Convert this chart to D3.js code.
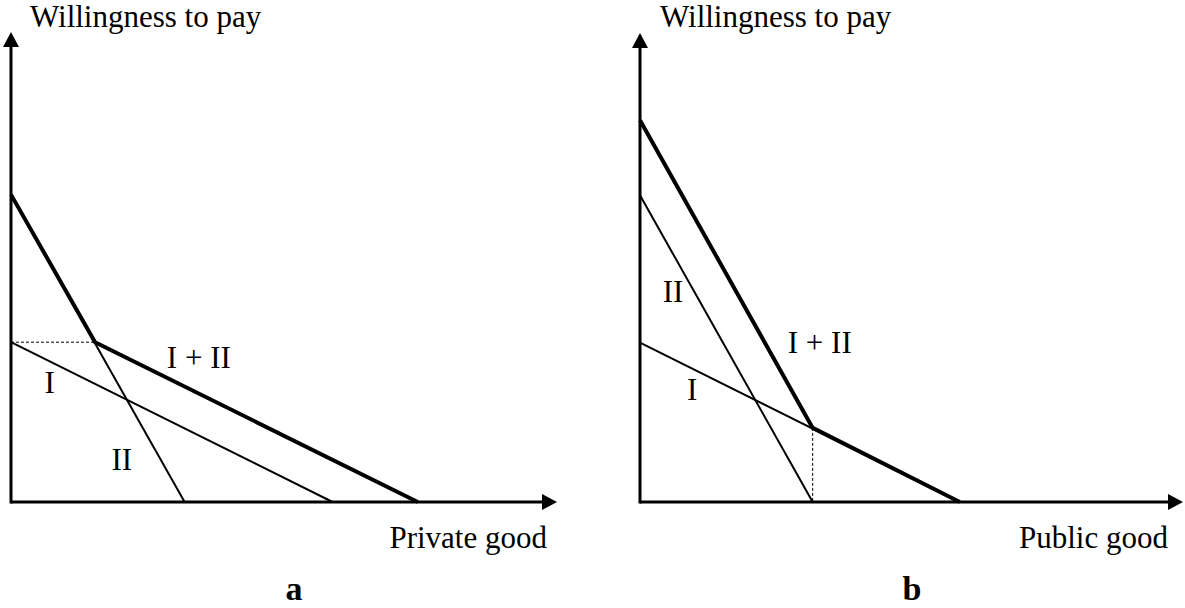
<!DOCTYPE html>
<html>
<head>
<meta charset="utf-8">
<script src="https://cdn.jsdelivr.net/npm/d3@7"></script>
<style>
  html, body { margin: 0; padding: 0; background: #fff; }
  svg { display: block; }
  text { font-family: "Liberation Serif", "Times New Roman", serif; fill: #000; }
</style>
</head>
<body>
<svg id="chart" width="1185" height="608"></svg>
<script>
// ---- data (quantity q, willingness to pay p) ----
const panelIds = ["a", "b"];
const xAxisTitles = ["Private good", "Public good"];
const yAxisTitle = "Willingness to pay";
const demandI = [{q: 0, p: 34.0}, {q: 58.9, p: 0}];
const demandII = [{q: 0, p: 65.4}, {q: 31.8, p: 0}];
// horizontal sum (private good)
const sumPrivate = [{q: 0, p: 65.4}, {q: 15.4, p: 34.0}, {q: 74.5, p: 0}];
// vertical sum (public good)
const sumPublic = [{q: 0, p: 81.4}, {q: 31.8, p: 15.8}, {q: 58.9, p: 0}];
const guidePrivate = [{q: 0, p: 34.0}, {q: 15.4, p: 34.0}];
const guidePublic = [{q: 31.8, p: 15.8}, {q: 31.8, p: 0}];
const curveLabels = ["I", "II", "I + II"];

// ---- layout ----
const svg = d3.select("#chart");
const panels = [
  {x0: 11, x1: 557, y0: 502, y1: 32, sum: sumPrivate, guide: guidePrivate,
   titleX: 30, xTitleX: 547, letterX: 294,
   labelPos: [{q: 7.1, p: 23.2}, {q: 20.3, p: 6.8}, {q: 34.4, p: 28.5}]},
  {x0: 640, x1: 1183, y0: 502, y1: 33, sum: sumPublic, guide: guidePublic,
   titleX: 660, xTitleX: 1168, letterX: 912,
   labelPos: [{q: 9.6, p: 21.7}, {q: 6.1, p: 42.6}, {q: 33.1, p: 31.8}]}
];

panels.forEach((pn, i) => {
  const x = d3.scaleLinear().domain([0, 100]).range([pn.x0, pn.x1]);
  const y = d3.scaleLinear().domain([0, 100]).range([pn.y0, pn.y1]);
  const g = svg.append("g");
  const line = d3.line().x(d => x(d.q)).y(d => y(d.p));

  // guide (dotted)
  g.append("path").attr("d", line(pn.guide)).attr("fill", "none")
    .attr("stroke", "#000").attr("stroke-width", 1).attr("stroke-dasharray", "3,2");

  // individual demand curves
  [demandI, demandII].forEach(dd => {
    g.append("path").attr("d", line(dd)).attr("fill", "none")
      .attr("stroke", "#000").attr("stroke-width", 2);
  });
  // aggregate
  g.append("path").attr("d", line(pn.sum)).attr("fill", "none")
    .attr("stroke", "#000").attr("stroke-width", 4).attr("stroke-linejoin", "miter");

  // axes
  const ah = 15, aw = 8;
  g.append("line").attr("x1", x(0)).attr("y1", y(0)).attr("x2", x(100) - ah + 1).attr("y2", y(0))
    .attr("stroke", "#000").attr("stroke-width", 3);
  g.append("line").attr("x1", x(0)).attr("y1", y(0) + 1.5).attr("x2", x(0)).attr("y2", y(100) + ah - 1)
    .attr("stroke", "#000").attr("stroke-width", 3);
  g.append("path").attr("d", `M${x(100)},${y(0)} L${x(100) - ah},${y(0) - aw} L${x(100) - ah},${y(0) + aw} Z`)
    .attr("fill", "#000");
  g.append("path").attr("d", `M${x(0)},${y(100)} L${x(0) - aw},${y(100) + ah} L${x(0) + aw},${y(100) + ah} Z`)
    .attr("fill", "#000");

  // axis titles
  g.append("text").attr("x", pn.titleX).attr("y", 27).attr("font-size", 31).text(yAxisTitle);
  g.append("text").attr("x", pn.xTitleX).attr("y", 548).attr("font-size", 31)
    .attr("text-anchor", "end").text(xAxisTitles[i]);

  // curve labels
  curveLabels.forEach((lab, k) => {
    g.append("text").attr("x", x(pn.labelPos[k].q)).attr("y", y(pn.labelPos[k].p))
      .attr("font-size", 31).attr("text-anchor", "middle").text(lab);
  });

  // panel letter
  g.append("text").attr("x", pn.letterX).attr("y", 600).attr("font-size", 34)
    .attr("font-weight", "bold").attr("text-anchor", "middle").text(panelIds[i]);
});
</script>
</body>
</html>
